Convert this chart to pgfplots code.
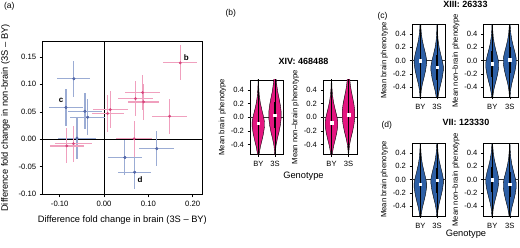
\documentclass[border=0pt]{standalone}
\usepackage{fontspec}
\setmainfont{Liberation Sans}
\usepackage{pgfplots}
\usepackage{pgfplotstable}
\pgfplotsset{compat=1.18}

\definecolor{pinkerr}{RGB}{240,160,190}
\definecolor{pinkpt}{RGB}{214,70,125}
\definecolor{blueerr}{RGB}{155,172,212}
\definecolor{bluept}{RGB}{85,105,170}
\definecolor{vmag}{RGB}{228,22,128}
\definecolor{vblue}{RGB}{45,95,165}

% panel (a) data: x y ex ey
\pgfplotstableread{
x y ex ey
-0.068 0.110 0.037 0.033
-0.086 0.058 0.038 0.034
-0.043 0.051 0.038 0.033
-0.037 0.040 0.039 0.033
-0.061 0.002 0.042 0.037
0.047 -0.033 0.038 0.032
0.069 -0.060 0.038 0.031
0.119 -0.017 0.039 0.032
}\bluedata
\pgfplotstableread{
x y ex ey
0.172 0.139 0.038 0.032
0.087 0.085 0.039 0.032
0.071 0.074 0.039 0.032
0.089 0.068 0.036 0.032
0.014 0.054 0.039 0.034
0.008 0.047 0.036 0.033
0.148 0.042 0.040 0.032
0.068 0.001 0.041 0.033
-0.084 -0.012 0.039 0.032
-0.069 -0.008 0.041 0.033
}\pinkdata

% violin outlines: d = offset from median, w = signed half width
\pgfplotstableread{
d w
-0.70 0.00
-0.55 0.02
-0.45 0.05
-0.35 0.12
-0.25 0.22
-0.15 0.31
-0.05 0.37
0.02 0.37
0.10 0.31
0.20 0.21
0.30 0.12
0.40 0.06
0.50 0.03
0.70 0.00
0.70 -0.00
0.50 -0.03
0.40 -0.06
0.30 -0.12
0.20 -0.21
0.10 -0.31
0.02 -0.37
-0.05 -0.37
-0.15 -0.31
-0.25 -0.22
-0.35 -0.12
-0.45 -0.05
-0.55 -0.02
-0.70 -0.00
}\vA
\pgfplotstableread{
d w
-0.70 0.00
-0.55 0.02
-0.45 0.06
-0.35 0.14
-0.25 0.24
-0.15 0.32
-0.05 0.37
0.05 0.37
0.15 0.32
0.25 0.24
0.35 0.16
0.45 0.10
0.55 0.06
0.70 0.03
0.70 -0.03
0.55 -0.06
0.45 -0.10
0.35 -0.16
0.25 -0.24
0.15 -0.32
0.05 -0.37
-0.05 -0.37
-0.15 -0.32
-0.25 -0.24
-0.35 -0.14
-0.45 -0.06
-0.55 -0.02
-0.70 -0.00
}\vB
\pgfplotstableread{
d w
-0.68 0
0.68 0
}\vWhisk
\pgfplotstableread{
d w
-0.19 0
0.19 0
}\vIQR

\newcommand{\violin}[4]{%
  \addplot[fill=#3, draw=black, line width=0.4pt] table[x expr=#1+\thisrow{w}, y expr=#2+\thisrow{d}] {#4} -- cycle;
  \addplot[black, line width=0.6pt] table[x expr=#1, y expr=#2+\thisrow{d}] {\vWhisk};
  \addplot[black, line width=1.6pt] table[x expr=#1, y expr=#2+\thisrow{d}] {\vIQR};
  \addplot[only marks, mark=square*, mark size=1.3pt, white, mark options={draw=white, fill=white}] coordinates {(#1,#2)};
}

\pgfplotsset{
  vaxis/.style={
    anchor=south west, scale only axis,
    xmin=0.5, xmax=2.5, ymin=-0.545, ymax=0.545,
    xtick={1,2}, xticklabels={BY,3S},
    ytick={-0.4,-0.2,0,0.2,0.4},
    tick align=outside, tick pos=left,
    major tick length=2.5pt,
    axis line style={line width=0.5pt},
    tick style={black, line width=0.5pt},
    ticklabel style={font=\fontsize{7.6}{8}\selectfont},
    yticklabel style={/pgf/number format/.cd, fixed, fixed zerofill, precision=1, assume math mode=true},
    scaled ticks=false,
    ylabel style={font=\fontsize{7.7}{8}\selectfont, yshift=-2pt},
    xticklabel style={yshift=-1pt},
  },
}

\begin{document}
\begin{tikzpicture}
\path[use as bounding box] (0,0) rectangle (520pt,248pt);

% ---------------- panel (a)
\begin{axis}[
  at={(42.7pt,53.7pt)}, anchor=south west, scale only axis,
  width=159.3pt, height=152.6pt,
  xmin=-0.1384, xmax=0.2212, ymin=-0.1, ymax=0.1775,
  xtick={-0.1,0,0.1,0.2}, ytick={-0.1,-0.05,0,0.05,0.1,0.15},
  scaled ticks=false,
  tick align=outside, tick pos=left, major tick length=3pt,
  axis line style={line width=0.6pt},
  tick style={black, line width=0.6pt},
  ticklabel style={font=\fontsize{7.7}{8}\selectfont, /pgf/number format/.cd, fixed, fixed zerofill, precision=2, assume math mode=true},
  xlabel={Difference fold change in brain (3S -- BY)},
  ylabel={Difference fold change in non-brain (3S -- BY)},
  label style={font=\fontsize{9.3}{10}\selectfont},
  xlabel style={yshift=-3pt},
  ylabel style={yshift=2pt},
]
\addplot[black, line width=0.6pt] coordinates {(-0.2,0) (0.3,0)};
\addplot[black, line width=0.6pt] coordinates {(0,-0.2) (0,0.3)};
\addplot[only marks, mark=*, mark size=1.2pt, color=bluept,
  error bars/.cd, x dir=both, x explicit, y dir=both, y explicit,
  error mark=none, error bar style={blueerr, line width=1.2pt}]
  table[x=x, y=y, x error=ex, y error=ey] {\bluedata};
\addplot[only marks, mark=*, mark size=1.2pt, color=pinkpt,
  error bars/.cd, x dir=both, x explicit, y dir=both, y explicit,
  error mark=none, error bar style={pinkerr, line width=1.2pt}]
  table[x=x, y=y, x error=ex, y error=ey] {\pinkdata};
\addplot[only marks, mark=*, mark size=1.2pt, color=bluept] table[x=x,y=y] {\bluedata};
\node[font=\bfseries\fontsize{8}{9}\selectfont] at (axis cs:0.186,0.1485) {b};
\node[font=\bfseries\fontsize{8}{9}\selectfont] at (axis cs:-0.097,0.0715) {c};
\node[font=\bfseries\fontsize{8}{9}\selectfont] at (axis cs:0.0813,-0.0727) {d};
\end{axis}

% ---------------- panel (b)
\begin{axis}[vaxis, at={(250pt,93.7pt)}, width=33.3pt, height=74.3pt, ylabel={Mean brain phenotype}]
\addplot[black!80, line width=0.4pt] coordinates {(0.5,0) (2.5,0)};
\violin{1}{-0.09}{vmag}{\vA}
\violin{2}{0.03}{vmag}{\vB}
\end{axis}
\begin{axis}[vaxis, at={(323pt,93.7pt)}, width=34pt, height=74.3pt, ylabel={Mean non--brain phenotype}]
\addplot[black!80, line width=0.4pt] coordinates {(0.5,0) (2.5,0)};
\violin{1}{-0.08}{vmag}{\vA}
\violin{2}{0.04}{vmag}{\vB}
\end{axis}

% ---------------- panel (c)
\begin{axis}[vaxis, at={(412pt,151pt)}, width=33.5pt, height=72.7pt, ylabel={Mean brain phenotype}]
\addplot[black!80, line width=0.4pt] coordinates {(0.5,0) (2.5,0)};
\violin{1}{0.00}{vblue}{\vA}
\violin{2}{-0.10}{vblue}{\vA}
\end{axis}
\begin{axis}[vaxis, at={(483.5pt,151pt)}, width=35pt, height=72.7pt, ylabel={Mean non--brain phenotype}]
\addplot[black!80, line width=0.4pt] coordinates {(0.5,0) (2.5,0)};
\violin{1}{-0.05}{vblue}{\vA}
\violin{2}{0.01}{vblue}{\vA}
\end{axis}

% ---------------- panel (d)
\begin{axis}[vaxis, at={(412pt,32pt)}, width=33.5pt, height=72.7pt, ylabel={Mean brain phenotype}]
\addplot[black!80, line width=0.4pt] coordinates {(0.5,0) (2.5,0)};
\violin{1}{-0.07}{vblue}{\vA}
\violin{2}{-0.01}{vblue}{\vA}
\end{axis}
\begin{axis}[vaxis, at={(483.5pt,32pt)}, width=35pt, height=72.7pt, ylabel={Mean non--brain phenotype}]
\addplot[black!80, line width=0.4pt] coordinates {(0.5,0) (2.5,0)};
\violin{1}{0.00}{vblue}{\vA}
\violin{2}{-0.07}{vblue}{\vA}
\end{axis}

% ---------------- labels and titles
\node[anchor=west, font=\fontsize{8.5}{9}\selectfont] at (0.5pt,242pt) {(a)};
\node[anchor=west, font=\fontsize{8.5}{9}\selectfont] at (222pt,235pt) {(b)};
\node[anchor=west, font=\fontsize{8.5}{9}\selectfont] at (374pt,232pt) {(c)};
\node[anchor=west, font=\fontsize{8.5}{9}\selectfont] at (378pt,122.3pt) {(d)};
\node[font=\bfseries\fontsize{9}{10}\selectfont] at (303.5pt,187pt) {XIV: 468488};
\node[font=\bfseries\fontsize{9}{10}\selectfont] at (465.5pt,243.5pt) {XIII: 26333};
\node[font=\bfseries\fontsize{9}{10}\selectfont] at (466pt,125.7pt) {VII: 123330};
\node[font=\fontsize{9.3}{10}\selectfont] at (303.5pt,72pt) {Genotype};
\node[font=\fontsize{9.3}{10}\selectfont] at (466pt,14pt) {Genotype};
\end{tikzpicture}
\end{document}
